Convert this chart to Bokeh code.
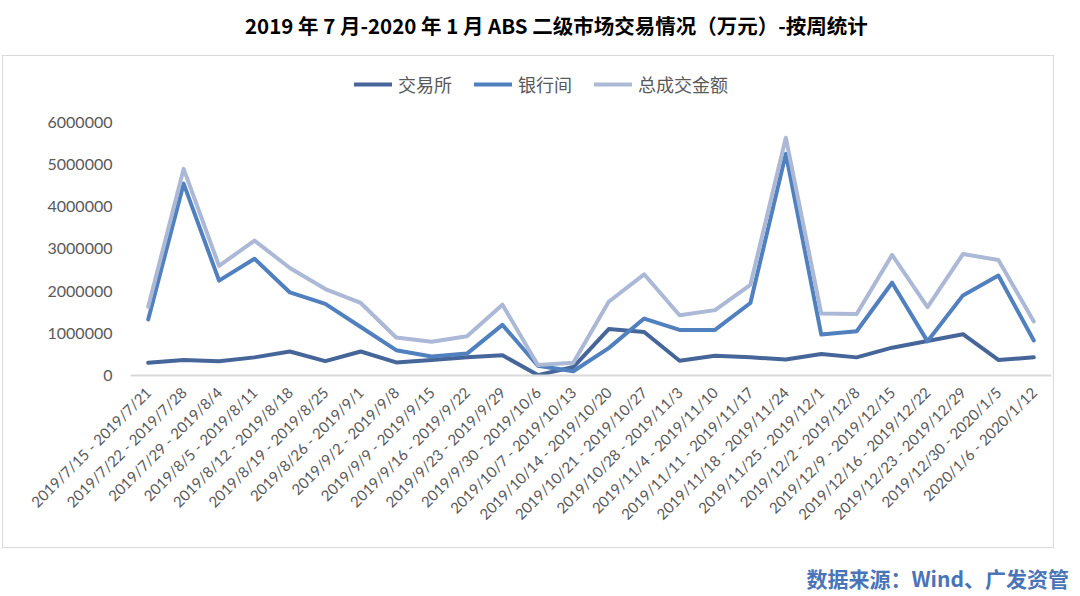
import math
from bokeh.plotting import figure
from bokeh.models import (FactorRange, Range1d, FixedTicker, Legend, LegendItem, Div, ColumnDataSource)
from bokeh.layouts import column
from bokeh.embed import file_html
from bokeh.resources import INLINE

weeks = ["2019/7/15 - 2019/7/21", "2019/7/22 - 2019/7/28", "2019/7/29 - 2019/8/4",
         "2019/8/5 - 2019/8/11", "2019/8/12 - 2019/8/18", "2019/8/19 - 2019/8/25",
         "2019/8/26 - 2019/9/1", "2019/9/2 - 2019/9/8", "2019/9/9 - 2019/9/15",
         "2019/9/16 - 2019/9/22", "2019/9/23 - 2019/9/29", "2019/9/30 - 2019/10/6",
         "2019/10/7 - 2019/10/13", "2019/10/14 - 2019/10/20", "2019/10/21 - 2019/10/27",
         "2019/10/28 - 2019/11/3", "2019/11/4 - 2019/11/10", "2019/11/11 - 2019/11/17",
         "2019/11/18 - 2019/11/24", "2019/11/25 - 2019/12/1", "2019/12/2 - 2019/12/8",
         "2019/12/9 - 2019/12/15", "2019/12/16 - 2019/12/22", "2019/12/23 - 2019/12/29",
         "2019/12/30 - 2020/1/5", "2020/1/6 - 2020/1/12"]

exchange = [300000, 370000, 340000, 430000, 570000, 340000, 570000, 310000, 370000,
            430000, 480000, 10000, 200000, 1100000, 1030000, 350000, 470000, 430000,
            380000, 510000, 430000, 660000, 820000, 980000, 370000, 430000]
interbank = [1330000, 4550000, 2250000, 2770000, 1970000, 1700000, 1150000, 600000,
             450000, 520000, 1200000, 230000, 100000, 650000, 1350000, 1080000, 1080000,
             1720000, 5260000, 970000, 1050000, 2200000, 810000, 1900000, 2370000, 830000]
total = [1630000, 4900000, 2600000, 3200000, 2550000, 2050000, 1720000, 900000, 800000,
         930000, 1680000, 250000, 300000, 1750000, 2400000, 1430000, 1550000, 2150000,
         5640000, 1470000, 1460000, 2860000, 1620000, 2880000, 2740000, 1280000]

series_names = ["交易所", "银行间", "总成交金额"]
series_colors = ["#46669A", "#5080BE", "#ABB9D6"]
y_ticks = [0, 1000000, 2000000, 3000000, 4000000, 5000000, 6000000]

title_text = "2019 年 7 月-2020 年 1 月 ABS 二级市场交易情况（万元）-按周统计"
source_text = "数据来源：Wind、广发资管"

src = ColumnDataSource(dict(week=weeks, exchange=exchange, interbank=interbank, total=total))

# frame extends above the 6,000,000 tick so the legend can sit inside it
p = figure(width=1052, height=493, x_range=FactorRange(*weeks, range_padding=0),
           y_range=Range1d(0, 7328000), output_backend="svg", toolbar_location=None,
           min_border_left=127, min_border_right=4, min_border_top=10, min_border_bottom=174)
p.outline_line_color = None
p.grid.visible = False
p.background_fill_color = "white"
p.border_fill_color = "white"
p.styles = {"border": "1px solid #D9D9D9"}
p.margin = (0, 0, 0, 2)

renderers = []
for col, name, color in zip(["exchange", "interbank", "total"], series_names, series_colors):
    r = p.line("week", col, source=src, line_color=color, line_width=4, line_join="round",
               line_cap="round")
    renderers.append(r)

p.yaxis.ticker = FixedTicker(ticks=y_ticks)
p.yaxis.major_label_overrides = {t: str(t) for t in y_ticks}
p.yaxis.axis_line_color = None
p.yaxis.major_tick_line_color = None
p.yaxis.minor_tick_line_color = None
p.yaxis.major_label_text_font = "Lato"
p.yaxis.major_label_text_font_size = "16px"
p.yaxis.major_label_text_color = "#595959"
p.yaxis.major_label_standoff = 12

p.xaxis.axis_line_color = "#D9D9D9"
p.xaxis.axis_line_width = 2
p.xaxis.major_tick_line_color = None
p.xaxis.minor_tick_line_color = None
p.xaxis.major_label_orientation = math.pi / 4
p.xaxis.major_label_text_font = "Lato"
p.xaxis.major_label_text_font_size = "15px"
p.xaxis.major_label_text_color = "#595959"
p.xaxis.major_label_standoff = 8

legend = Legend(items=[LegendItem(label=n, renderers=[r]) for n, r in zip(series_names, renderers)],
                orientation="horizontal", location=(224, 278), glyph_width=38, glyph_height=20,
                label_standoff=6, spacing=22, padding=5, margin=0, border_line_color=None,
                background_fill_alpha=0, label_text_font="Noto Sans CJK SC",
                label_text_font_size="18px", label_text_color="#595959")
p.add_layout(legend)

title_div = Div(text=title_text, width=1064, height=45,
                styles={"font-family": "Noto Sans CJK SC", "font-weight": "bold",
                        "font-size": "20.5px", "color": "#000000", "text-align": "left",
                        "padding-left": "240px", "line-height": "40px",
                        "white-space": "nowrap"})
source_div = Div(text=source_text, width=1064, height=40,
                 styles={"font-family": "Noto Sans CJK SC", "font-weight": "bold",
                         "font-size": "21px", "color": "#4A74B8", "text-align": "right",
                         "line-height": "50px", "width": "1064px"})

layout = column(title_div, p, source_div, spacing=0)
open("out.html", "w").write(file_html(layout, INLINE))
